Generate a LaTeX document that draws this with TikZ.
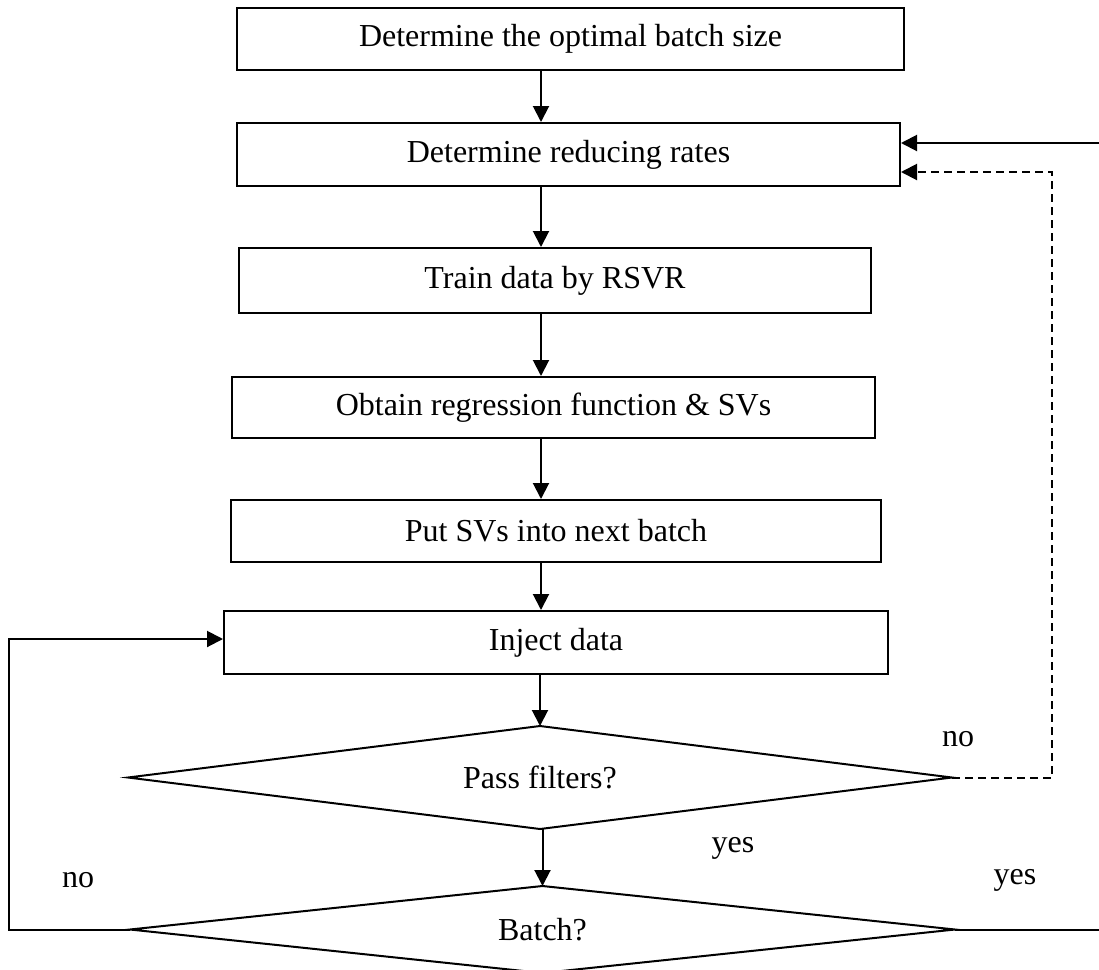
\documentclass[tikz,border=0pt]{standalone}
\usepackage{fontspec}
\setmainfont{Liberation Serif}
\usetikzlibrary{arrows.meta, shapes.geometric}

\begin{document}
\begin{tikzpicture}[x=0.5pt, y=-0.5pt,
        font=\fontsize{16pt}{19pt}\selectfont,
        stepbox/.style={draw, rectangle, line width=1pt, inner sep=0pt},
        decision/.style={draw, diamond, aspect=8, line width=1pt, inner sep=0pt, outer sep=0pt},
        arr/.style={line width=1pt, -{Triangle[length=8pt, width=8pt]}},
        loopdash/.style={dash pattern=on 4pt off 2.5pt},
        answer/.style={inner sep=0pt}]
        \useasboundingbox (0,0) rectangle (1099,970);
        \clip (0,0) rectangle (1099,970);

        % Column of the down arrows
        \coordinate (col) at (541,0);

        % Process boxes
        \node[stepbox, minimum width=333.5pt, minimum height=31pt] (b1) at (570.5,39) {Determine the optimal batch size};
        \node[stepbox, minimum width=331.5pt, minimum height=31.5pt] (b2) at (568.5,154.5) {Determine reducing rates};
        \node[stepbox, minimum width=316pt, minimum height=32.5pt] (b3) at (555,280.5) {Train data by RSVR};
        \node[stepbox, minimum width=321.5pt, minimum height=30.5pt] (b4) at (553.5,407.5) {Obtain regression function \& SVs};
        \node[stepbox, minimum width=325pt, minimum height=31pt] (b5) at (556,531) {Put SVs into next batch};
        \node[stepbox, minimum width=332pt, minimum height=31.5pt] (b6) at (556,642.5) {Inject data};

        % Decisions
        \node[decision, minimum width=412pt, minimum height=51.5pt] (d1) at (540,777.5) {Pass filters?};
        \node[decision, minimum width=412.5pt, minimum height=43.5pt] (d2) at (542.5,929.5) {Batch?};

        % Down arrows
        \foreach \a/\b in {b1/b2, b2/b3, b3/b4, b4/b5, b5/b6}
            \draw[arr] (\a.south -| col) -- (\b.north -| col);
        \draw[arr] (b6.south -| d1.north) -- (d1.north);
        \draw[arr] (d1.south -| d2.north) -- (d2.north);

        % Loops back
        \draw[arr, loopdash] (d1.east) -- ++(100,0) |- ([yshift=-8.75pt]b2.east);
        \draw[arr] (d2.east) -- ++(150,0) |- ([yshift=5.75pt]b2.east);
        \draw[arr] (d2.west) -- ++(-121,0) |- ([yshift=1.75pt]b6.west);

        % Answers
        \node[answer] (no1) at (958,739) {no};
        \node[answer] (yes1) at (733,848) {yes};
        \node[answer] (yes2) at (1015,880) {yes};
        \node[answer] (no2) at (78,880) {no};
    \end{tikzpicture}
\end{document}
